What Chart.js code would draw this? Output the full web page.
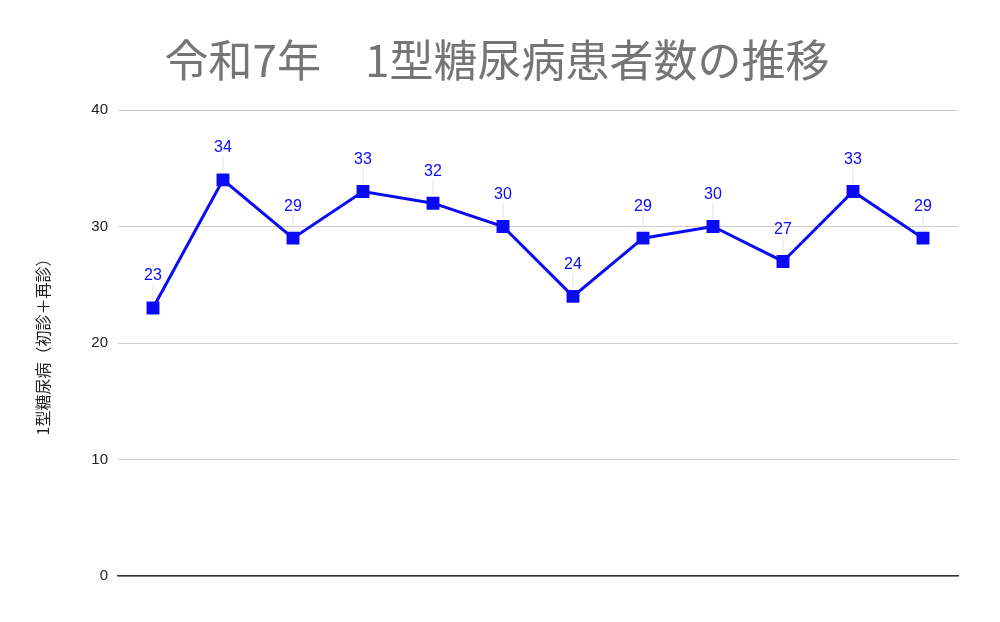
<!DOCTYPE html>
<html>
<head>
<meta charset="utf-8">
<script src="https://cdn.jsdelivr.net/npm/chart.js@4.4.1/dist/chart.umd.min.js"></script>
<style>
  html, body { margin: 0; padding: 0; background: #fff; }
  #wrap { width: 1000px; height: 622px; }
</style>
</head>
<body>
<div id="wrap"><canvas id="chart" width="1000" height="622"></canvas></div>
<script>
// データ
const months = ['1月','2月','3月','4月','5月','6月','7月','8月','9月','10月','11月','12月'];
const patients = [23, 34, 29, 33, 32, 30, 24, 29, 30, 27, 33, 29];
const yTicks = [0, 10, 20, 30, 40];
const chartTitle = '令和7年　1型糖尿病患者数の推移';

const JP_FONT = '"Noto Sans CJK JP", "Noto Sans", sans-serif';
const NUM_FONT = '"Liberation Sans", Arial, sans-serif';
const BLUE = '#0a0af5';

// タイトル（キャンバス全体の中央に描く）
const titlePlugin = {
  id: 'titlePlugin',
  afterDraw(chart) {
    const ctx = chart.ctx;
    ctx.save();
    ctx.fillStyle = '#757575';
    ctx.font = '44px ' + JP_FONT;
    ctx.textAlign = 'center';
    ctx.textBaseline = 'middle';
    ctx.fillText(chartTitle, 497, 60);
    ctx.restore();
  }
};

// 値ラベル + 引き出し線
const valueLabels = {
  id: 'valueLabels',
  afterDatasetsDraw(chart) {
    const ctx = chart.ctx;
    const meta = chart.getDatasetMeta(0);
    ctx.save();
    meta.data.forEach((pt, i) => {
      ctx.strokeStyle = '#e2e2e2';
      ctx.lineWidth = 1;
      ctx.beginPath();
      ctx.moveTo(pt.x, pt.y - 8);
      ctx.lineTo(pt.x, pt.y - 23);
      ctx.stroke();
      ctx.fillStyle = BLUE;
      ctx.font = '16px ' + NUM_FONT;
      ctx.textAlign = 'center';
      ctx.textBaseline = 'middle';
      ctx.fillText(String(chart.data.datasets[0].data[i]), pt.x, pt.y - 32);
    });
    ctx.restore();
  }
};

new Chart(document.getElementById('chart'), {
  type: 'line',
  data: {
    labels: months,
    datasets: [{
      label: '1型糖尿病',
      data: patients,
      borderColor: BLUE,
      backgroundColor: BLUE,
      borderWidth: 3,
      pointStyle: 'rect',
      pointRadius: 7,
      pointHoverRadius: 7,
      tension: 0
    }]
  },
  options: {
    responsive: false,
    animation: false,
    layout: { padding: { top: 110, right: 42, bottom: 46, left: 0 } },
    plugins: {
      legend: { display: false },
      tooltip: { enabled: false },
      title: { display: false }
    },
    scales: {
      x: {
        offset: true,
        ticks: { display: false },
        grid: { display: false },
        border: { display: true, color: '#333', width: 1.5 },
        afterFit(scale) { scale.height = 0; }
      },
      y: {
        min: 0,
        max: 40,
        afterBuildTicks(scale) { scale.ticks = yTicks.map(v => ({ value: v })); },
        ticks: {
          color: '#222',
          font: { family: NUM_FONT, size: 15 },
          padding: 10
        },
        grid: { color: '#cccccc', lineWidth: 1, drawTicks: false },
        border: { display: false },
        title: {
          display: true,
          text: '1型糖尿病（初診＋再診）',
          color: '#222',
          font: { family: JP_FONT, size: 16 },
          padding: { top: 33, bottom: 0 }
        },
        afterFit(scale) { scale.width = 118; }
      }
    }
  },
  plugins: [valueLabels, titlePlugin]
});
</script>
</body>
</html>
